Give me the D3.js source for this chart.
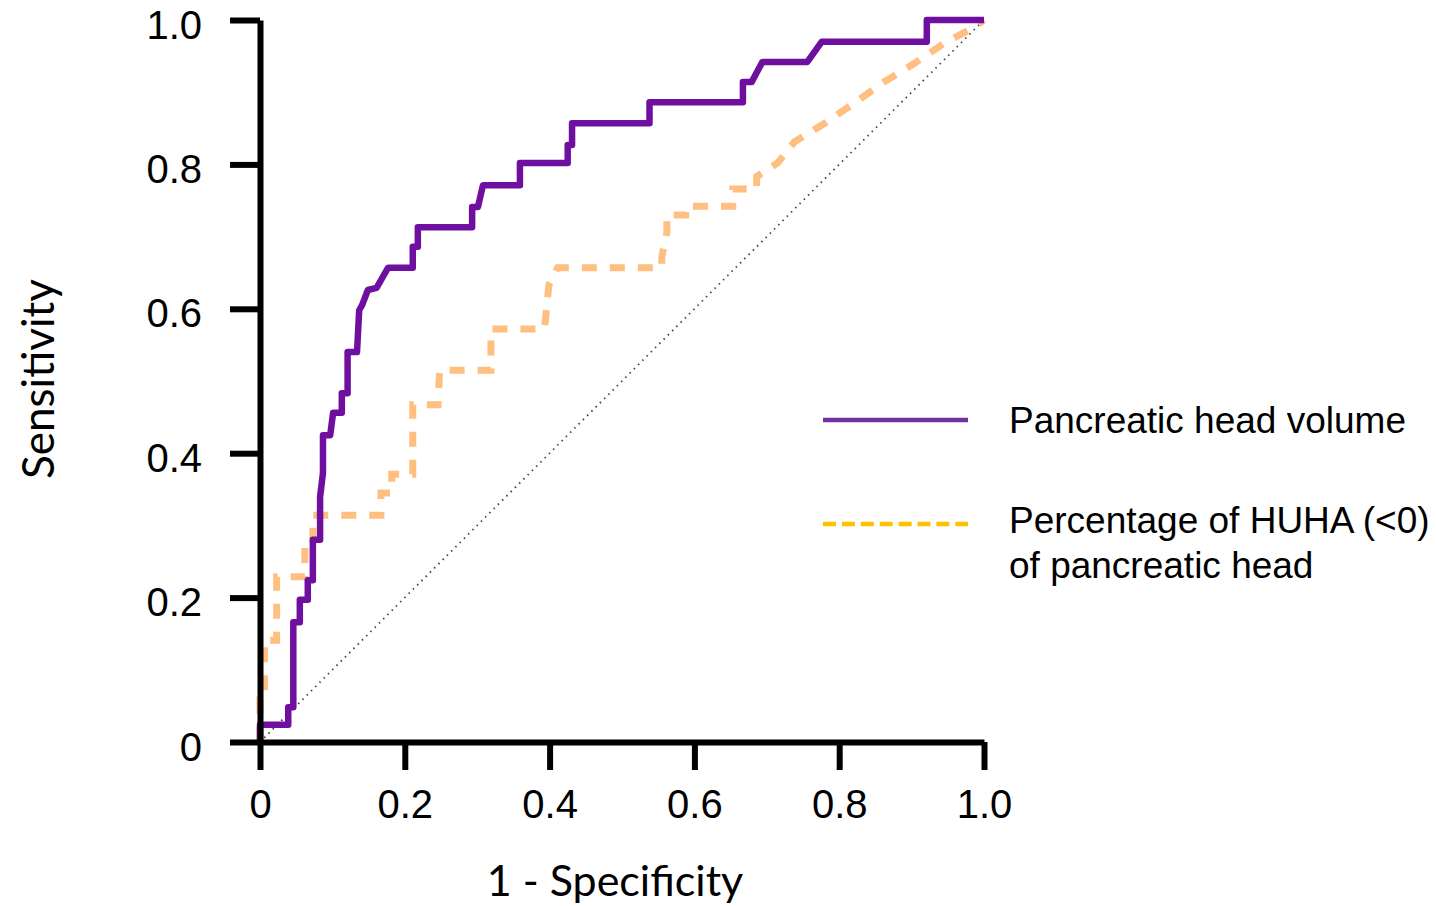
<!DOCTYPE html>
<html>
<head>
<meta charset="utf-8">
<script src="https://cdn.jsdelivr.net/npm/d3@7"></script>
<style>
  body { margin: 0; background: #fff; }
  svg { display: block; }
</style>
</head>
<body>
<div id="chart"></div>
<script>
// ROC curves
var volumeFpr = [0, 0, 0.039, 0.039, 0.046, 0.046, 0.055, 0.055, 0.066, 0.066, 0.073, 0.073, 0.083, 0.083, 0.087, 0.087, 0.097, 0.101, 0.113, 0.113, 0.121, 0.121, 0.134, 0.137, 0.141, 0.149, 0.161, 0.177, 0.211, 0.211, 0.218, 0.218, 0.293, 0.293, 0.301, 0.308, 0.359, 0.359, 0.425, 0.425, 0.431, 0.431, 0.538, 0.538, 0.667, 0.667, 0.679, 0.694, 0.756, 0.776, 0.921, 0.921, 1];
var volumeTpr = [0, 0.024, 0.024, 0.048, 0.048, 0.166, 0.166, 0.197, 0.197, 0.224, 0.224, 0.28, 0.28, 0.339, 0.373, 0.425, 0.425, 0.456, 0.456, 0.483, 0.483, 0.54, 0.54, 0.598, 0.605, 0.626, 0.629, 0.657, 0.657, 0.686, 0.686, 0.713, 0.713, 0.741, 0.741, 0.771, 0.771, 0.802, 0.802, 0.827, 0.827, 0.857, 0.857, 0.886, 0.886, 0.914, 0.914, 0.942, 0.942, 0.970, 0.970, 1, 1];

var huhaFpr = [0, 0, 0.006, 0.006, 0.023, 0.023, 0.062, 0.062, 0.073, 0.073, 0.167, 0.167, 0.182, 0.182, 0.211, 0.211, 0.246, 0.248, 0.319, 0.319, 0.393, 0.399, 0.411, 0.555, 0.555, 0.562, 0.562, 0.588, 0.588, 0.653, 0.653, 0.686, 0.686, 0.715, 0.738, 0.780, 0.821, 0.860, 0.904, 0.945, 0.987, 1];
var huhaTpr = [0, 0.058, 0.058, 0.141, 0.141, 0.229, 0.229, 0.269, 0.269, 0.314, 0.314, 0.345, 0.345, 0.371, 0.371, 0.467, 0.467, 0.515, 0.515, 0.572, 0.572, 0.633, 0.657, 0.657, 0.672, 0.706, 0.730, 0.730, 0.742, 0.742, 0.766, 0.766, 0.783, 0.802, 0.831, 0.857, 0.885, 0.913, 0.940, 0.968, 0.990, 1];

var ticks = [0, 0.2, 0.4, 0.6, 0.8, 1.0];
var tickLabels = ["0", "0.2", "0.4", "0.6", "0.8", "1.0"];
var legendNames = ["Pancreatic head volume", "Percentage of HUHA (<0)", "of pancreatic head"];

var width = 1436, height = 906;
var svg = d3.select("#chart").append("svg")
  .attr("width", width).attr("height", height);

var x = d3.scaleLinear().domain([0, 1]).range([260, 984]);
var y = d3.scaleLinear().domain([0, 1]).range([742, 20]);

var tickFont = "'Liberation Sans', Arial, sans-serif";
var titleFont = "Lato, 'Open Sans', sans-serif";

// chance line
svg.append("line")
  .attr("x1", x(0)).attr("y1", y(0))
  .attr("x2", x(1)).attr("y2", y(1))
  .attr("stroke", "#444").attr("stroke-width", 1.8)
  .attr("stroke-dasharray", "1.5,4.5");

var line = d3.line().x(function(d){ return x(d[0]); }).y(function(d){ return y(d[1]); });

// HUHA curve (dashed, light orange)
svg.append("path")
  .datum(d3.zip(huhaFpr, huhaTpr))
  .attr("d", line)
  .attr("fill", "none")
  .attr("stroke", "#ffbf80")
  .attr("stroke-width", 7)
  .attr("stroke-dasharray", "15,13");

// head volume curve
svg.append("path")
  .datum(d3.zip(volumeFpr, volumeTpr))
  .attr("d", line)
  .attr("fill", "none")
  .attr("stroke", "#6f0fa0")
  .attr("stroke-width", 6.5)
  .attr("stroke-linejoin", "round");

// axes
var xAxis = d3.axisBottom(x).tickValues(ticks)
  .tickFormat(function(d, i){ return tickLabels[i]; })
  .tickSize(28).tickSizeOuter(0).tickPadding(20);
var yAxis = d3.axisLeft(y).tickValues(ticks)
  .tickFormat(function(d, i){ return tickLabels[i]; })
  .tickSize(30).tickSizeOuter(0).tickPadding(28);

var gx = svg.append("g").attr("transform", "translate(0," + y(0) + ")").call(xAxis);
var gy = svg.append("g").attr("transform", "translate(" + x(0) + ",0)").call(yAxis);

[gx, gy].forEach(function(g){
  g.select(".domain").attr("stroke", "#000").attr("stroke-width", 6);
  g.selectAll(".tick line").attr("stroke", "#000").attr("stroke-width", 6);
  g.selectAll(".tick text")
    .attr("fill", "#000")
    .style("font-family", tickFont)
    .style("font-size", "40px");
});
gy.selectAll(".tick text").attr("dy", "0.45em");

// axis titles
svg.append("text")
  .attr("transform", "translate(54,379) rotate(-90)")
  .attr("text-anchor", "middle")
  .style("font-family", titleFont)
  .style("font-size", "44px")
  .text("Sensitivity");

svg.append("text")
  .attr("x", 615).attr("y", 896)
  .attr("text-anchor", "middle")
  .style("font-family", titleFont)
  .style("font-size", "43px")
  .text("1 - Specificity");

// legend
var legend = svg.append("g");
legend.append("line")
  .attr("x1", 823).attr("x2", 968).attr("y1", 420).attr("y2", 420)
  .attr("stroke", "#7030a0").attr("stroke-width", 4.5);
legend.append("line")
  .attr("x1", 823).attr("x2", 968).attr("y1", 524).attr("y2", 524)
  .attr("stroke", "#ffc000").attr("stroke-width", 4.5)
  .attr("stroke-dasharray", "13,5.9");

legend.selectAll("text.name")
  .data(legendNames)
  .enter().append("text")
  .attr("class", "name")
  .attr("x", 1009)
  .attr("y", function(d, i){ return [433, 533, 578][i]; })
  .style("font-family", tickFont)
  .style("font-size", "37px")
  .text(function(d){ return d; });
</script>
</body>
</html>
